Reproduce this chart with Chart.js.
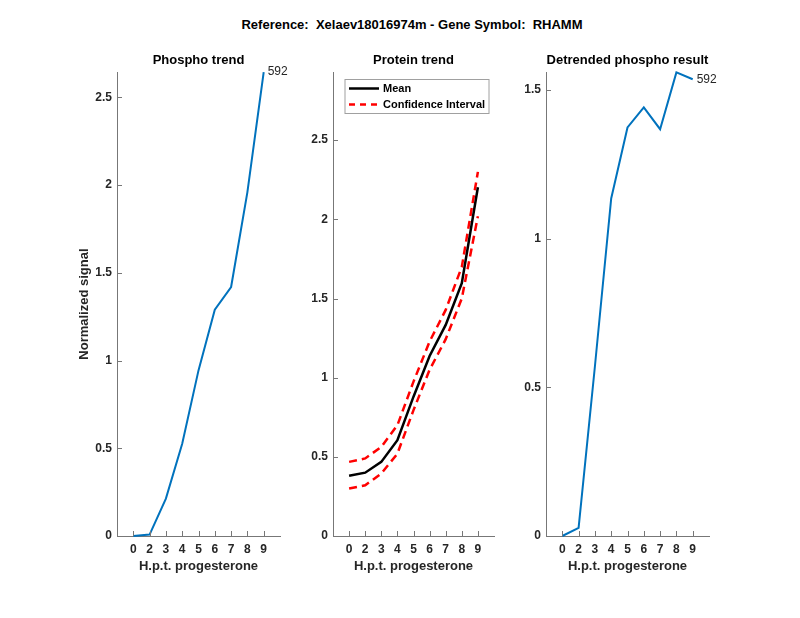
<!DOCTYPE html>
<html>
<head>
<meta charset="utf-8">
<script src="https://cdn.jsdelivr.net/npm/chart.js@4"></script>
<style>
  body { margin: 0; background: #fff; }
  #wrap { position: relative; width: 800px; height: 618px; }
  #wrap canvas { position: absolute; left: 0; top: 0; }
  #title {
    position: absolute; left: 212px; top: 17px; width: 400px; text-align: center;
    font: bold 13px "Liberation Sans", Arial, sans-serif; line-height: 15px;
    white-space: pre; color: #000;
  }
</style>
</head>
<body>
<div id="wrap">
  <div id="title">Reference:  Xelaev18016974m - Gene Symbol:  RHAMM</div>
  <canvas id="c1" width="800" height="618"></canvas>
  <canvas id="c2" width="800" height="618"></canvas>
  <canvas id="c3" width="800" height="618"></canvas>
</div>
<script>
// hours post treatment (evenly spaced categories)
const hours = ['0', '2', '3', '4', '5', '6', '7', '8', '9'];

const phospho = [0, 0.008, 0.213, 0.526, 0.944, 1.29, 1.419, 1.96, 2.644];
const proteinMean = [0.38, 0.40, 0.468, 0.605, 0.88, 1.137, 1.333, 1.597, 2.203];
const proteinUpper = [0.468, 0.49, 0.563, 0.70, 0.975, 1.228, 1.428, 1.70, 2.30];
const proteinLower = [0.30, 0.32, 0.395, 0.52, 0.795, 1.05, 1.243, 1.50, 2.02];
const detrended = [0, 0.027, 0.57, 1.135, 1.374, 1.441, 1.368, 1.559, 1.536];
const peptideId = '592';

Chart.defaults.font.family = '"Liberation Sans", Arial, sans-serif';
Chart.defaults.color = '#262626';

const axisColor = '#777';
const blue = '#0072BD';

const toPoints = arr => arr.map((v, i) => ({ x: i, y: v }));

// MATLAB style inward tick marks
const innerTicks = {
  id: 'innerTicks',
  afterDraw(chart) {
    const { ctx, chartArea: a, scales: { x, y } } = chart;
    ctx.save();
    ctx.strokeStyle = axisColor;
    ctx.lineWidth = 1;
    ctx.beginPath();
    x.ticks.forEach(t => {
      const px = Math.round(x.getPixelForValue(t.value)) + 0.5;
      ctx.moveTo(px, a.bottom);
      ctx.lineTo(px, a.bottom - 5);
    });
    y.ticks.forEach(t => {
      const py = Math.round(y.getPixelForValue(t.value)) + 0.5;
      ctx.moveTo(a.left, py);
      ctx.lineTo(a.left + 5, py);
    });
    ctx.stroke();
    ctx.restore();
  }
};

// text next to the last point of the first dataset
const endLabel = {
  id: 'endLabel',
  afterDatasetsDraw(chart, args, opts) {
    if (!opts.text) return;
    const meta = chart.getDatasetMeta(0);
    const pt = meta.data[meta.data.length - 1];
    const ctx = chart.ctx;
    ctx.save();
    ctx.font = '12px "Liberation Sans", Arial, sans-serif';
    ctx.fillStyle = '#262626';
    ctx.textBaseline = 'middle';
    ctx.fillText(opts.text, pt.x + 4, pt.y);
    ctx.restore();
  }
};

// legend box drawn inside the protein plot
const boxLegend = {
  id: 'boxLegend',
  afterDraw(chart) {
    const ctx = chart.ctx;
    const a = chart.chartArea;
    const x0 = a.left + 12, y0 = 79.5, w = 144, h = 34;
    ctx.save();
    ctx.fillStyle = '#fff';
    ctx.fillRect(x0, y0, w, h);
    ctx.strokeStyle = '#a0a0a0';
    ctx.lineWidth = 1;
    ctx.strokeRect(x0, y0, w, h);
    const rows = [
      { label: 'Mean', color: '#000', dash: [] },
      { label: 'Confidence Interval', color: '#ff0000', dash: [6, 5] }
    ];
    rows.forEach((r, i) => {
      const yy = y0 + 9 + i * 16;
      ctx.beginPath();
      ctx.setLineDash(r.dash);
      ctx.strokeStyle = r.color;
      ctx.lineWidth = 2.5;
      ctx.moveTo(x0 + 4, yy);
      ctx.lineTo(x0 + 34, yy);
      ctx.stroke();
      ctx.setLineDash([]);
      ctx.fillStyle = '#000';
      ctx.font = 'bold 11px "Liberation Sans", Arial, sans-serif';
      ctx.textBaseline = 'middle';
      ctx.fillText(r.label, x0 + 38, yy);
    });
    ctx.restore();
  }
};

function makeChart(id, cfg) {
  const tickFont = { size: 12, weight: 'bold' };
  new Chart(document.getElementById(id), {
    type: 'line',
    data: { datasets: cfg.datasets },
    options: {
      responsive: false,
      animation: false,
      layout: { padding: { left: cfg.left - 40, right: 800 - cfg.right, top: 52.5, bottom: 40 } },
      elements: { point: { radius: 0 }, line: { tension: 0 } },
      plugins: {
        legend: { display: false },
        tooltip: { enabled: false },
        title: {
          display: true, text: cfg.title, fullSize: false, color: '#000',
          font: { size: 13, weight: 'bold' }, padding: { top: 0, bottom: 4 }
        },
        endLabel: { text: cfg.endText || '' }
      },
      scales: {
        x: {
          type: 'linear', min: -1, max: hours.length,
          afterBuildTicks: s => { s.ticks = hours.map((h, i) => ({ value: i })); },
          ticks: { callback: v => hours[v], font: tickFont, padding: 6, autoSkip: false, maxRotation: 0 },
          grid: { display: false, drawTicks: false },
          border: { display: true, color: axisColor, width: 1 },
          title: {
            display: true, text: 'H.p.t. progesterone', color: '#262626',
            font: { size: 13, weight: 'bold' }, padding: { top: 0, bottom: 4 }
          },
          afterFit: s => { s.height = 42; }
        },
        y: {
          min: 0, max: cfg.ymax,
          ticks: {
            stepSize: 0.5, includeBounds: false, font: tickFont, padding: 5,
            callback: v => String(+v.toFixed(2))
          },
          grid: { display: false, drawTicks: false },
          border: { display: true, color: axisColor, width: 1 },
          title: {
            display: !!cfg.ytitle, text: cfg.ytitle || '', color: '#262626',
            font: { size: 13, weight: 'bold' }, padding: { top: 0, bottom: 0 }
          },
          afterFit: s => { s.width = 40; }
        }
      }
    },
    plugins: [innerTicks, endLabel].concat(cfg.extra || [])
  });
}

makeChart('c1', {
  left: 117, right: 280, ymax: 2.644, title: 'Phospho trend', ytitle: 'Normalized signal', endText: peptideId,
  datasets: [{ data: toPoints(phospho), borderColor: blue, borderWidth: 2, clip: false }]
});

makeChart('c2', {
  left: 333, right: 494, ymax: 2.93, title: 'Protein trend', extra: [boxLegend],
  datasets: [
    { data: toPoints(proteinMean), borderColor: '#000', borderWidth: 2.5 },
    { data: toPoints(proteinUpper), borderColor: '#ff0000', borderWidth: 2.5, borderDash: [8, 5] },
    { data: toPoints(proteinLower), borderColor: '#ff0000', borderWidth: 2.5, borderDash: [8, 5] }
  ]
});

makeChart('c3', {
  left: 546, right: 709, ymax: 1.56, title: 'Detrended phospho result', endText: peptideId,
  datasets: [{ data: toPoints(detrended), borderColor: blue, borderWidth: 2, clip: false }]
});
</script>
</body>
</html>
